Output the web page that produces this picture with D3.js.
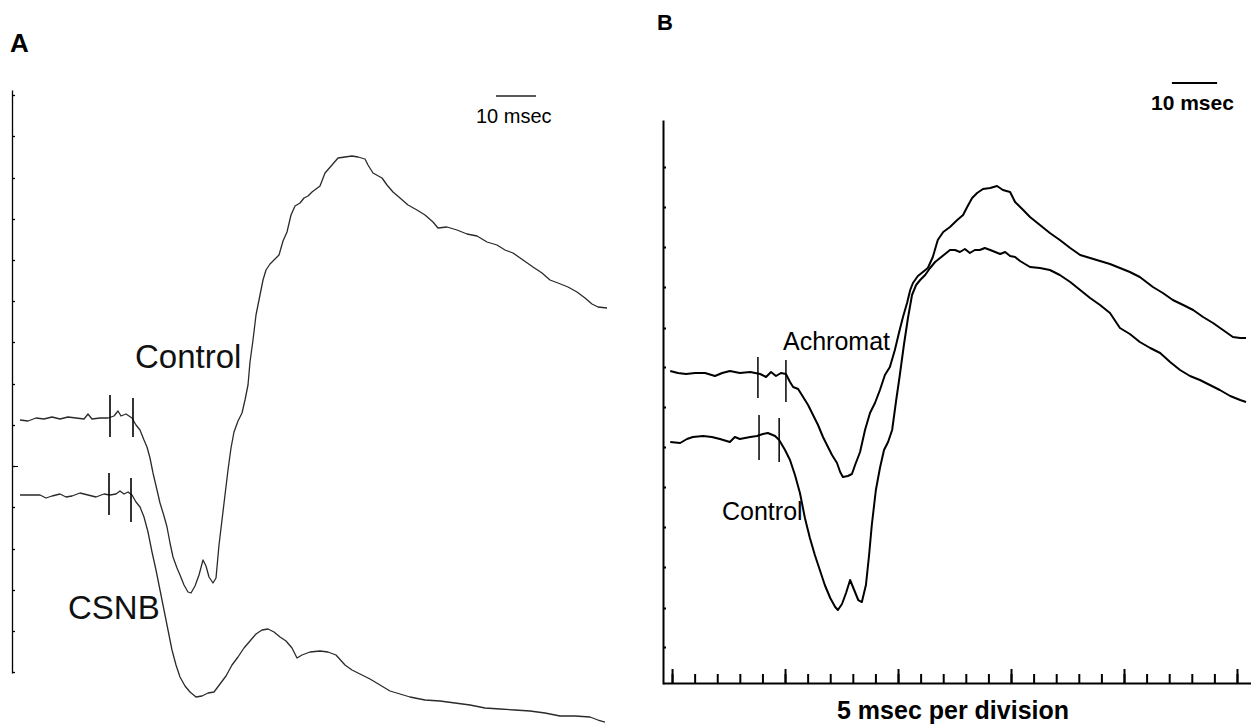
<!DOCTYPE html>
<html>
<head>
<meta charset="utf-8">
<title>ERG traces - Control, CSNB, Achromat</title>
<script src="https://d3js.org/d3.v7.min.js"></script>
<style>
body { margin: 0; background: #fff; }
svg { display: block; font-family: "Liberation Sans", Arial, sans-serif; }
.trace { fill: none; stroke-linejoin: round; }
.axis path, .axis line { stroke: #000; }
</style>
</head>
<body>
<svg width="1251" height="727"></svg>
<script>
// ---- data: [time (msec from flash), amplitude (uV, relative to own baseline)] ----

// Panel A, control subject
var controlA = [[-28,0],[-26,-1],[-24,2],[-22,1],[-20,3],[-18,1],[-16,3],[-14,2],[-12,1],[-11,6],
  [-10,1],[-8,2],[-6,2],[-4.5,4],[-3.5,9],[-2.75,4],[-1.5,6],[0,2],[1,-5],[2,-10],[3,-20],
  [3.75,-27],[4.5,-38],[5.25,-53],[6.25,-70],[7,-83],[8,-96],[8.75,-107],[9.5,-123],[10.25,-137],
  [11.25,-148],[12,-155],[13,-165],[14,-172],[14.75,-173],[15.75,-166],[16.75,-155],[17.75,-140],
  [18.5,-146],[19.25,-157],[20.25,-163],[21,-158],[21.75,-125],[22.5,-100],[23.25,-75],[24,-50],
  [24.75,-28],[25.5,-12],[26.5,-1],[27.5,7],[28.25,20],[29,35],[29.5,58],[30.25,80],[31,105],
  [31.75,120],[32.75,140],[33.5,150],[34.5,156],[35.75,161],[36.75,165],[37.75,179],[38.75,188],
  [39.75,205],[40.75,214],[42,217],[43,222],[44,224],[45,228],[46,231],[47,234],[48.25,247],
  [50,255],[51.5,262],[53.25,263],[55,264],[56.5,263],[58.25,261],[59,255],[60.25,247],[62.5,242],
  [63.75,235],[65.25,228],[67,222],[69,215],[71.25,210],[73.25,205],[75.25,198],[76.5,192],
  [78.75,193],[81.25,190],[83.75,186],[86.25,184],[88.75,178],[91.25,175],[93.25,170],[95.25,167],
  [97.75,160],[100.25,153],[102.5,147],[104.5,140],[106.5,137],[109,133],[111.25,128],[113.25,122],
  [115,116],[116.5,113],[118.75,112]];

// Panel A, CSNB patient
var csnbA = [[-28,0],[-25.5,0],[-23,0],[-21.5,-3],[-20,-1],[-18,1],[-16.5,-2],[-15,-1],[-13,2],
  [-11,0],[-9,-2],[-7,1],[-5.5,0],[-4,1],[-3,4],[-2,1],[-1,3],[0,0],[1,-7],[2,-12],[3,-22],[4,-37],
  [5,-57],[6,-75],[7,-95],[8,-115],[9,-135],[10,-155],[11,-170],[12,-182],[13.25,-191],[14.5,-197],
  [16,-202],[17.5,-201],[19,-198],[20.5,-197],[22,-189],[23.5,-181],[25,-170],[26.5,-162],[28,-153],
  [29.5,-146],[31,-139],[32.5,-135],[34,-134],[35.5,-137],[37,-142],[38.5,-146],[40,-153],
  [41.25,-163],[42.5,-160],[44.5,-157],[47,-156],[49,-157],[51,-160],[53.25,-170],[55,-175],
  [57,-179],[59.5,-184],[62,-190],[64.5,-196],[67,-199],[69.5,-202],[73.25,-205],[77,-206],
  [80.75,-208],[84.5,-210],[88.25,-213],[92,-214],[95.75,-215],[99.5,-216],[103.25,-218],
  [107,-221],[110.75,-221],[114.5,-222],[116.5,-225],[118.25,-227]];

// Panel B, achromat patient
var achromatB = [[-25.4,2],[-23.7,0],[-21.9,-1],[-19.9,0],[-17.7,0],[-15.5,-3],[-13.9,0],[-12.2,2],
  [-10,0],[-7.7,1],[-5.5,-1],[-4.2,-4],[-3.1,1],[-2,-3],[-0.9,0],[0.2,-1],[1.1,-9],[1.8,-14],
  [2.9,-16],[4,-24],[5.1,-32],[6.2,-42],[7.3,-52],[8.4,-64],[9.5,-74],[10.4,-82],[11.5,-90],
  [12.2,-99],[12.8,-104],[13.9,-103],[14.8,-101],[15.5,-92],[16.6,-79],[17.7,-57],[18.8,-40],
  [19.9,-30],[21,-17],[22.1,-2],[23.2,6],[24.3,23],[25.2,40],[26.1,56],[27,70],[27.7,83],[28.3,90],
  [29.4,97],[30.5,101],[31.6,105],[32.7,116],[33.8,133],[35,141],[36.5,146],[38.1,153],[39.4,158],
  [40.3,166],[41.4,175],[42.5,180],[43.8,184],[45.4,185],[46.9,187],[48.2,183],[49.8,181],
  [50.9,171],[52.7,163],[54.2,156],[56.4,148],[58.6,140],[60.8,133],[63.1,125],[65.3,118],
  [67.5,115],[69.7,112],[71.9,109],[74.1,105],[76.3,101],[78.5,96],[81.4,86],[83.6,80],[85.8,73],
  [88.1,68],[90.3,63],[92.5,56],[94.7,50],[96.9,43],[99.1,36],[100.7,35],[102,35]];

// Panel B, control subject
var controlB = [[-25.4,-2],[-23.2,-3],[-21.7,1],[-20.4,3],[-18.1,4],[-16.2,3],[-14.4,1],[-12.2,-2],
  [-11.1,3],[-10,1],[-7.7,3],[-6.2,4],[-4.9,6],[-3.8,7],[-2.2,4],[-1.3,0],[0,-10],[1.1,-20],
  [2.2,-35],[3.3,-53],[4.4,-78],[5.5,-98],[6.6,-115],[7.7,-130],[8.8,-145],[10,-158],[11.1,-167],
  [11.7,-170],[12.6,-164],[13.5,-153],[14.4,-140],[15.3,-150],[16.2,-160],[17,-162],[17.9,-145],
  [18.6,-115],[19.2,-85],[20.1,-50],[21,-28],[21.9,-10],[22.8,-2],[23.7,10],[24.6,40],[25.4,65],
  [26.3,95],[27.2,122],[28.1,145],[29,155],[29.9,160],[31,165],[32.1,172],[33.2,178],[34.3,182],
  [35.4,186],[36.5,190],[37.6,190],[38.7,188],[39.8,191],[40.9,187],[42,190],[43.1,190],[44.2,192],
  [45.4,190],[46.5,188],[47.6,186],[48.7,188],[49.8,184],[50.9,183],[52,179],[53.1,176],[54.2,173],
  [56.4,172],[58.6,170],[60.8,165],[63.1,158],[65.3,150],[67.5,142],[69.7,135],[71.9,127],
  [74.1,112],[76.3,106],[78.5,98],[80.8,92],[83,87],[85.2,78],[87.4,70],[89.6,64],[91.8,60],
  [94,55],[96.2,50],[98.5,44],[100.7,40],[102,38]];

// stimulus marks: [time, top, bottom] relative to the trace baseline
var stimControlA = [[-5.5,25,-17],[0.25,22,-17]];
var stimCsnbA = [[-5.75,22,-20],[-0.25,17,-27]];
var stimAchromatB = [[-6,16,-25],[0.2,13,-29]];
var stimControlB = [[-5.75,25,-20],[-1.3,22,-22]];

// 10 msec scale bars: [start, end] in msec
var barA = [91, 101];
var barB = [85.6, 95.6];

// axis ticks
var ampTicksA = [325,284,242,201,160,119,78,36,-5,-46,-87,-129,-170,-211,-252];
var ampTicksB = [206,166,126,86,45,6,-34,-74,-114,-154,-194,-235,-274];
var timeTicksB = [-25,-20,-15,-10,-5,0,5,10,15,20,25,30,35,40,45,50,55,60,65,70,75,80,85,90,95,100];
var timeMajorB = [-25,0,25,50,75,100];

var svg = d3.select("svg");

// ---------- Panel A ----------
var xA = d3.scaleLinear().domain([-28, 118.75]).range([20, 607]);
var yA = d3.scaleLinear().domain([-253, 330]).range([673, 90]);

svg.append("g").attr("class", "axis").attr("transform", "translate(12,0)")
  .call(d3.axisRight(yA).tickValues(ampTicksA).tickSize(3).tickSizeOuter(0).tickFormat(""))
  .call(g => g.selectAll("path,line").attr("stroke-width", 1.3));
svg.append("g").attr("class", "axis").attr("transform", "translate(12,0)")
  .call(d3.axisRight(yA).tickValues([-46]).tickSize(6).tickSizeOuter(0).tickFormat(""))
  .call(g => g.select("path").remove());

function drawTrace(data, x, y, offset, width, color) {
  var line = d3.line().x(d => x(d[0])).y(d => y(d[1] + offset));
  svg.append("path").datum(data).attr("class", "trace")
    .attr("d", line).attr("stroke", color).attr("stroke-width", width);
}
function drawStim(marks, x, y, offset, width) {
  svg.selectAll(null).data(marks).enter().append("line")
    .attr("x1", d => x(d[0])).attr("x2", d => x(d[0]))
    .attr("y1", d => y(d[1] + offset)).attr("y2", d => y(d[2] + offset))
    .attr("stroke", "#000").attr("stroke-width", width);
}

drawTrace(controlA, xA, yA, 0, 1.3, "#2a2a2a");
drawTrace(csnbA, xA, yA, -75, 1.3, "#2a2a2a");
drawStim(stimControlA, xA, yA, 0, 1.6);
drawStim(stimCsnbA, xA, yA, -75, 1.6);

// 10 msec scale bar
svg.append("line").attr("x1", xA(barA[0])).attr("x2", xA(barA[1])).attr("y1", 96).attr("y2", 96)
  .attr("stroke", "#222").attr("stroke-width", 1.3);
svg.append("text").attr("x", 476).attr("y", 123).attr("font-size", 20).text("10 msec");

svg.append("text").attr("x", 10).attr("y", 52).attr("font-size", 26).attr("font-weight", "bold").text("A");
svg.append("text").attr("x", 135).attr("y", 368).attr("font-size", 33).attr("fill", "#111").text("Control");
svg.append("text").attr("x", 68).attr("y", 619).attr("font-size", 33).attr("fill", "#111").text("CSNB");

// ---------- Panel B ----------
var xB = d3.scaleLinear().domain([-27, 103.1]).range([663, 1251]);
var yB = d3.scaleLinear().domain([-311, 253]).range([684, 120]);

svg.append("g").attr("class", "axis").attr("transform", "translate(663,0)")
  .call(d3.axisRight(yB).tickValues(ampTicksB).tickSize(3).tickSizeOuter(0).tickFormat(""))
  .call(g => g.selectAll("path,line").attr("stroke-width", 2));
svg.append("g").attr("class", "axis").attr("transform", "translate(0,683)")
  .call(d3.axisTop(xB).tickValues(timeTicksB).tickSize(9).tickSizeOuter(0).tickFormat(""))
  .call(g => g.selectAll("path,line").attr("stroke-width", 2));
svg.append("g").attr("class", "axis").attr("transform", "translate(0,683)")
  .call(d3.axisTop(xB).tickValues(timeMajorB).tickSize(14).tickSizeOuter(0).tickFormat(""))
  .call(g => g.select("path").remove())
  .call(g => g.selectAll("line").attr("stroke-width", 2));

drawTrace(achromatB, xB, yB, 0, 2, "#000");
drawTrace(controlB, xB, yB, -67, 2, "#000");
drawStim(stimAchromatB, xB, yB, 0, 1.5);
drawStim(stimControlB, xB, yB, -67, 1.5);

svg.append("line").attr("x1", xB(barB[0])).attr("x2", xB(barB[1])).attr("y1", 83).attr("y2", 83)
  .attr("stroke", "#000").attr("stroke-width", 2);
svg.append("text").attr("x", 1151).attr("y", 110).attr("font-size", 21).attr("font-weight", "bold").text("10 msec");

svg.append("text").attr("x", 657).attr("y", 30).attr("font-size", 22).attr("font-weight", "bold").text("B");
svg.append("text").attr("x", 783).attr("y", 350).attr("font-size", 25).text("Achromat");
svg.append("text").attr("x", 722).attr("y", 520).attr("font-size", 25).text("Control");
svg.append("text").attr("x", 837).attr("y", 719).attr("font-size", 25).attr("font-weight", "bold").text("5 msec per division");
</script>
</body>
</html>
